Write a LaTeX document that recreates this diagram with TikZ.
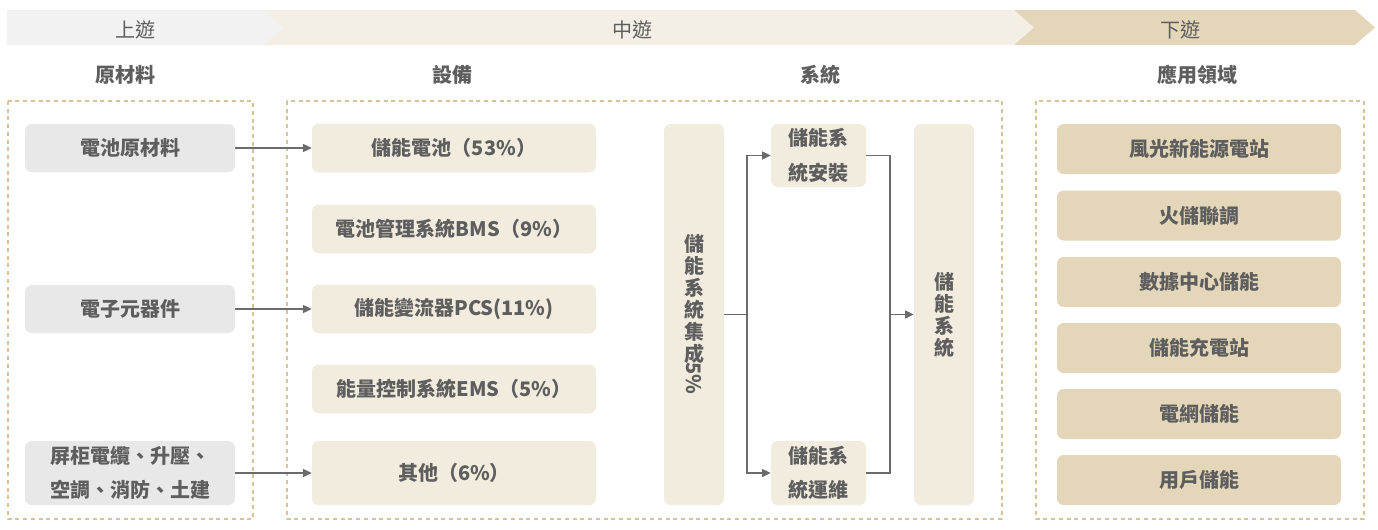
\documentclass[tikz,border=0pt]{standalone}
\usepackage{fontspec}
\setmainfont{Noto Sans CJK TC}
\usetikzlibrary{arrows.meta}
\definecolor{txtgray}{HTML}{5E5E5E}
\definecolor{linegray}{HTML}{6B6B6B}
\definecolor{bandup}{HTML}{F2F2F2}
\definecolor{bandmid}{HTML}{F3EFE4}
\definecolor{banddown}{HTML}{E4D6B9}
\definecolor{fillup}{HTML}{E8E8E8}
\definecolor{fillmid}{HTML}{F2ECDF}
\definecolor{filldown}{HTML}{E4D6B9}
\definecolor{dashtan}{HTML}{D9C297}
\tikzstyle{chainstyle}=[
    x=0.75pt, y=-0.75pt,
    >={Triangle[length=6.5pt,width=6pt]},
    font=\bfseries\fontsize{15pt}{18pt}\selectfont,
    text=txtgray,
    every node/.style={inner sep=0pt, align=center},
]
\tikzstyle{headtext}=[font=\fontsize{15pt}{18pt}\selectfont]
\tikzstyle{stagebox}=[draw=dashtan, line width=0.8pt, dash pattern=on 3pt off 2.8pt]
\tikzstyle{itembox}=[rounded corners=5pt, font=\bfseries\fontsize{15pt}{18pt}\selectfont]
\tikzstyle{upbox}=[itembox, fill=fillup, minimum width=157.5pt, minimum height=36pt]
\tikzstyle{midbox}=[itembox, fill=fillmid, minimum width=213pt, minimum height=36.75pt]
\tikzstyle{downbox}=[itembox, fill=filldown, minimum width=213pt, minimum height=37.5pt]
\tikzstyle{tallbox}=[itembox, fill=fillmid, minimum width=45pt, minimum height=285.75pt,
    font=\bfseries\fontsize{15pt}{16.5pt}\selectfont]
\tikzstyle{twoline}=[font=\bfseries\fontsize{15pt}{26pt}\selectfont]
\tikzstyle{flow}=[draw=linegray, line width=1pt]

\begin{document}
\begin{tikzpicture}[chainstyle]
        \useasboundingbox (0,0) rectangle (1378,529);
        \fill[bandup] (7,10) -- (263,10) -- (283,27.5) -- (263,45) -- (7,45) -- cycle;
        \fill[bandmid] (263,10) -- (1014,10) -- (1034,27.5) -- (1014,45) -- (263,45) -- (283,27.5) -- cycle;
        \fill[banddown] (1014,10) -- (1355,10) -- (1375,27.5) -- (1355,45) -- (1014,45) -- (1034,27.5) -- cycle;
        \node (hup) at (135, 30) [headtext] {上遊};
        \node (hmid) at (632, 30) [headtext] {中遊};
        \node (hdown) at (1180, 30) [headtext] {下遊};
        \node (traw) at (125, 75) {原材料};
        \node (tdev) at (452, 75) {設備};
        \node (tsys) at (820, 75) {系統};
        \node (tapp) at (1197, 75) {應用領域};
        \draw[stagebox] (8,101) rectangle (253,519);
        \draw[stagebox] (287,101) rectangle (1002,519);
        \draw[stagebox] (1036,101) rectangle (1364,519);
        \node (rbat) at (130, 148) [upbox] {電池原材料};
        \node (relec) at (130, 309) [upbox] {電子元器件};
        \node (rmisc) at (130, 473) [upbox, minimum height=48pt, twoline] {屏柜電纜、升壓、\\空調、消防、土建};
        \node (dbat) at (454, 148) [midbox] {儲能電池（53\%）};
        \node (dbms) at (454, 229) [midbox] {電池管理系統BMS（9\%）};
        \node (dpcs) at (454, 309) [midbox] {儲能變流器PCS(11\%)};
        \node (dems) at (454, 389) [midbox] {能量控制系統EMS（5\%）};
        \node (dmisc) at (454, 473) [midbox, minimum height=48pt] {其他（6\%）};
        \node (integ) at (694, 314.5) [tallbox] {儲\\能\\系\\統\\集\\成\\[-16pt]\rotatebox{-90}{5\%}};
        \node (install) at (818.5, 155.5) [itembox, fill=fillmid, minimum width=71.25pt, minimum height=47.25pt, twoline] {儲能系\\統安裝};
        \node (maint) at (818.5, 473) [itembox, fill=fillmid, minimum width=71.25pt, minimum height=48pt, twoline] {儲能系\\統運維};
        \node (esys) at (944, 314.5) [tallbox] {儲\\能\\系\\統};
        \node (awind) at (1199, 149) [downbox] {風光新能源電站};
        \node (athermal) at (1199, 215.5) [downbox] {火儲聯調};
        \node (adata) at (1199, 282) [downbox] {數據中心儲能};
        \node (acharge) at (1199, 348) [downbox] {儲能充電站};
        \node (agrid) at (1199, 414) [downbox] {電網儲能};
        \node (auser) at (1199, 480) [downbox] {用戶儲能};
        \coordinate (split) at (747, 314.5);
        \coordinate (merge) at (890, 314.5);
        \draw[flow, ->] (rbat) -- (dbat);
        \draw[flow, ->] (relec) -- (dpcs);
        \draw[flow, ->] (rmisc) -- (dmisc);
        \draw[flow] (integ.east) -- (split);
        \draw[flow, ->] (split) |- (install.west);
        \draw[flow, ->] (split) |- (maint.west);
        \draw[flow] (install.east) -| (merge);
        \draw[flow] (maint.east) -| (merge);
        \draw[flow, ->] (merge) -- (esys.west);
    \end{tikzpicture}
\end{document}
